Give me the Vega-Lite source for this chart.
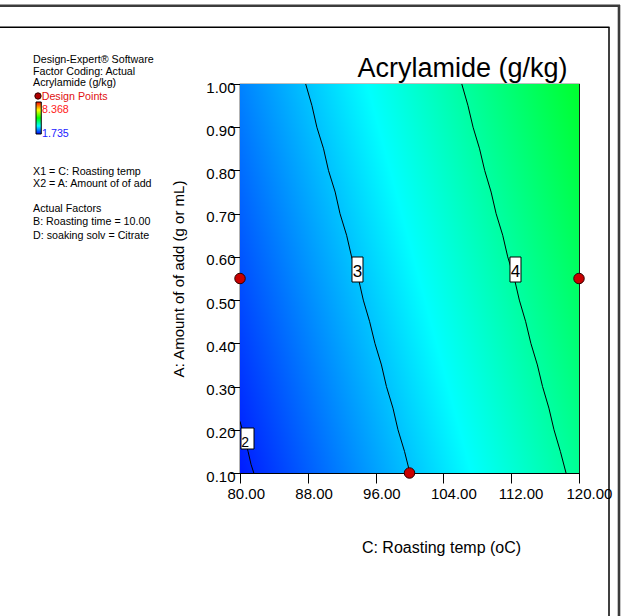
{
  "$schema": "https://vega.github.io/schema/vega-lite/v6.json",
  "width": 339,
  "height": 389,
  "autosize": "none",
  "padding": {"left": 240, "top": 84, "right": 42, "bottom": 143},
  "background": "white",
  "config": {
    "font": "Liberation Sans",
    "view": {"stroke": "black", "strokeWidth": 1.2},
    "axis": {"grid": false, "domainColor": "black", "tickColor": "black", "labelColor": "black", "titleColor": "black", "labelFont": "Liberation Sans", "titleFont": "Liberation Sans", "titleFontWeight": "normal"}
  },
  "layer": [
    {
      "data": {"values": [{"xlo": 80, "xhi": 120, "alo": 0.1, "ahi": 1.0}]},
      "mark": {"type": "rect", "fill": {"gradient": "linear", "x1": 0, "y1": 1, "x2": 1.1946, "y2": 0.6326, "stops": [{"offset": 0, "color": "#001bff"}, {"offset": 0.522, "color": "#00ffff"}, {"offset": 1, "color": "#00ff2e"}]}},
      "encoding": {
        "x": {"field": "xlo", "type": "quantitative", "scale": {"domain": [80, 120], "nice": false, "zero": false},
              "axis": {"title": "C: Roasting temp (oC)", "values": [80, 88, 96, 104, 112, 120], "format": ".2f", "labelFontSize": 15, "labelAlign": "left", "labelOffset": -13, "labelBaseline": "top", "labelPadding": 3, "tickSize": 10, "labelFlush": false, "labelOverlap": false, "titleFontSize": 16, "titleX": 201, "titleY": 79, "titleBaseline": "alphabetic", "titleAnchor": "middle"}},
        "x2": {"field": "xhi"},
        "y": {"field": "ahi", "type": "quantitative", "scale": {"domain": [0.1, 1.0], "nice": false, "zero": false},
              "axis": {"title": "A: Amount of  of add (g or mL)", "values": [0.1, 0.2, 0.3, 0.4, 0.5, 0.6, 0.7, 0.8, 0.9, 1.0], "format": ".2f", "labelFontSize": 15, "labelAlign": "right", "labelBaseline": "middle", "labelOffset": 3, "labelPadding": -5, "tickSize": 10, "labelFlush": false, "labelOverlap": false, "titleFontSize": 15, "titleAngle": -90, "titleX": -62, "titleY": 194.5, "titleBaseline": "middle", "titleAnchor": "middle"}},
        "y2": {"field": "alo"}
      }
    },
    {
      "data": {"values": [
        {"level": "2", "i": 0, "X": 80.0, "A": 0.2196},
        {"level": "2", "i": 1, "X": 80.27, "A": 0.2},
        {"level": "2", "i": 2, "X": 80.95, "A": 0.15},
        {"level": "2", "i": 3, "X": 81.3, "A": 0.12},
        {"level": "2", "i": 4, "X": 81.63, "A": 0.1},
        {"level": "3", "i": 0, "X": 87.75, "A": 1.0},
        {"level": "3", "i": 1, "X": 88.49, "A": 0.95},
        {"level": "3", "i": 2, "X": 89.07, "A": 0.9},
        {"level": "3", "i": 3, "X": 89.86, "A": 0.85},
        {"level": "3", "i": 4, "X": 90.44, "A": 0.8},
        {"level": "3", "i": 5, "X": 91.23, "A": 0.75},
        {"level": "3", "i": 6, "X": 91.8, "A": 0.7},
        {"level": "3", "i": 7, "X": 92.58, "A": 0.65},
        {"level": "3", "i": 8, "X": 93.17, "A": 0.6},
        {"level": "3", "i": 9, "X": 93.97, "A": 0.55},
        {"level": "3", "i": 10, "X": 94.55, "A": 0.5},
        {"level": "3", "i": 11, "X": 95.3, "A": 0.45},
        {"level": "3", "i": 12, "X": 95.92, "A": 0.4},
        {"level": "3", "i": 13, "X": 96.69, "A": 0.35},
        {"level": "3", "i": 14, "X": 97.28, "A": 0.3},
        {"level": "3", "i": 15, "X": 98.05, "A": 0.25},
        {"level": "3", "i": 16, "X": 98.64, "A": 0.2},
        {"level": "3", "i": 17, "X": 99.41, "A": 0.15},
        {"level": "3", "i": 18, "X": 100.05, "A": 0.1},
        {"level": "4", "i": 0, "X": 106.17, "A": 1.0},
        {"level": "4", "i": 1, "X": 106.9, "A": 0.95},
        {"level": "4", "i": 2, "X": 107.5, "A": 0.9},
        {"level": "4", "i": 3, "X": 108.27, "A": 0.85},
        {"level": "4", "i": 4, "X": 108.87, "A": 0.8},
        {"level": "4", "i": 5, "X": 109.63, "A": 0.75},
        {"level": "4", "i": 6, "X": 110.22, "A": 0.7},
        {"level": "4", "i": 7, "X": 111.0, "A": 0.65},
        {"level": "4", "i": 8, "X": 111.59, "A": 0.6},
        {"level": "4", "i": 9, "X": 112.37, "A": 0.55},
        {"level": "4", "i": 10, "X": 112.96, "A": 0.5},
        {"level": "4", "i": 11, "X": 113.71, "A": 0.45},
        {"level": "4", "i": 12, "X": 114.32, "A": 0.4},
        {"level": "4", "i": 13, "X": 115.09, "A": 0.35},
        {"level": "4", "i": 14, "X": 115.7, "A": 0.3},
        {"level": "4", "i": 15, "X": 116.45, "A": 0.25},
        {"level": "4", "i": 16, "X": 117.05, "A": 0.2},
        {"level": "4", "i": 17, "X": 117.8, "A": 0.15},
        {"level": "4", "i": 18, "X": 118.47, "A": 0.1}
      ]},
      "mark": {"type": "line", "color": "black", "strokeWidth": 1, "clip": true},
      "encoding": {
        "x": {"field": "X", "type": "quantitative", "scale": {"domain": [80, 120], "nice": false, "zero": false}},
        "y": {"field": "A", "type": "quantitative", "scale": {"domain": [0.1, 1.0], "nice": false, "zero": false}},
        "detail": {"field": "level"},
        "order": {"field": "i"}
      }
    },
    {
      "data": {"values": [{"level": "3", "X": 93.864, "A": 0.5708}, {"level": "4", "X": 112.507, "A": 0.5708}]},
      "mark": {"type": "point", "shape": "M-0.44,-1H0.44V1H-0.44Z", "size": 625, "filled": true, "fill": "white", "stroke": "black", "strokeWidth": 1, "opacity": 1},
      "encoding": {
        "x": {"field": "X", "type": "quantitative", "scale": {"domain": [80, 120], "nice": false, "zero": false}},
        "y": {"field": "A", "type": "quantitative", "scale": {"domain": [0.1, 1.0], "nice": false, "zero": false}}
      }
    },
    {
      "data": {"values": [{"level": "2", "X": 80.885, "A": 0.1798}]},
      "mark": {"type": "point", "shape": "M-0.62,-1H0.62V1H-0.62Z", "size": 441, "filled": true, "fill": "white", "stroke": "black", "strokeWidth": 1, "opacity": 1},
      "encoding": {
        "x": {"field": "X", "type": "quantitative", "scale": {"domain": [80, 120], "nice": false, "zero": false}},
        "y": {"field": "A", "type": "quantitative", "scale": {"domain": [0.1, 1.0], "nice": false, "zero": false}}
      }
    },
    {
      "data": {"values": [{"level": "3", "X": 93.864, "A": 0.5708}, {"level": "4", "X": 112.507, "A": 0.5708}]},
      "mark": {"type": "text", "fontSize": 17, "align": "center", "baseline": "middle", "dy": 2, "color": "black"},
      "encoding": {
        "x": {"field": "X", "type": "quantitative", "scale": {"domain": [80, 120], "nice": false, "zero": false}},
        "y": {"field": "A", "type": "quantitative", "scale": {"domain": [0.1, 1.0], "nice": false, "zero": false}},
        "text": {"field": "level"}
      }
    },
    {
      "data": {"values": [{"level": "2", "X": 80.6, "A": 0.1683}]},
      "mark": {"type": "text", "fontSize": 14, "align": "center", "baseline": "middle", "color": "black"},
      "encoding": {
        "x": {"field": "X", "type": "quantitative", "scale": {"domain": [80, 120], "nice": false, "zero": false}},
        "y": {"field": "A", "type": "quantitative", "scale": {"domain": [0.1, 1.0], "nice": false, "zero": false}},
        "text": {"field": "level"}
      }
    },
    {
      "data": {"values": [{"C": 80, "A": 0.55}, {"C": 120, "A": 0.55}, {"C": 100, "A": 0.1}]},
      "mark": {"type": "point", "shape": "circle", "filled": true, "size": 110, "fill": "#c80000", "stroke": "#300000", "strokeWidth": 1, "opacity": 1},
      "encoding": {
        "x": {"field": "C", "type": "quantitative", "scale": {"domain": [80, 120], "nice": false, "zero": false}},
        "y": {"field": "A", "type": "quantitative", "scale": {"domain": [0.1, 1.0], "nice": false, "zero": false}}
      }
    },
    {
      "data": {"values": [{}]},
      "mark": {"type": "text", "align": "center", "baseline": "alphabetic", "fontSize": 27, "color": "black"},
      "encoding": {
        "x": {"datum": 106.25, "type": "quantitative", "scale": {"domain": [80, 120], "nice": false, "zero": false}},
        "y": {"datum": 1.0162, "type": "quantitative", "scale": {"domain": [0.1, 1.0], "nice": false, "zero": false}},
        "text": {"value": "Acrylamide (g/kg)"}
      }
    },
    {
      "data": {"values": [{}]},
      "mark": {"type": "rule", "color": "#3c3c3c", "strokeWidth": 2.6},
      "encoding": {
        "x": {"datum": 51.681, "type": "quantitative", "scale": {"domain": [80, 120], "nice": false, "zero": false}},
        "x2": {"datum": 124.838},
        "y": {"datum": 1.18093, "type": "quantitative", "scale": {"domain": [0.1, 1.0], "nice": false, "zero": false}}
      }
    },
    {
      "data": {"values": [{}]},
      "mark": {"type": "rule", "color": "#3c3c3c", "strokeWidth": 2.6},
      "encoding": {
        "x": {"datum": 124.72, "type": "quantitative", "scale": {"domain": [80, 120], "nice": false, "zero": false}},
        "y": {"datum": 1.18278, "type": "quantitative", "scale": {"domain": [0.1, 1.0], "nice": false, "zero": false}},
        "y2": {"datum": -0.23084}
      }
    },
    {
      "data": {"values": [{}]},
      "mark": {"type": "rule", "color": "black", "strokeWidth": 1.5},
      "encoding": {
        "x": {"datum": 51.681, "type": "quantitative", "scale": {"domain": [80, 120], "nice": false, "zero": false}},
        "x2": {"datum": 123.6},
        "y": {"datum": 1.13118, "type": "quantitative", "scale": {"domain": [0.1, 1.0], "nice": false, "zero": false}}
      }
    },
    {
      "data": {"values": [{}]},
      "mark": {"type": "rule", "color": "black", "strokeWidth": 1.5},
      "encoding": {
        "x": {"datum": 123.54, "type": "quantitative", "scale": {"domain": [80, 120], "nice": false, "zero": false}},
        "y": {"datum": 1.1315, "type": "quantitative", "scale": {"domain": [0.1, 1.0], "nice": false, "zero": false}},
        "y2": {"datum": -0.23084}
      }
    },
    {
      "data": {"values": [{}]},
      "mark": {"type": "text", "align": "left", "baseline": "alphabetic", "fontSize": 10.7, "lineHeight": 11.6, "color": "black"},
      "encoding": {
        "x": {"datum": 55.575, "type": "quantitative", "scale": {"domain": [80, 120], "nice": false, "zero": false}},
        "y": {"datum": 1.04859, "type": "quantitative", "scale": {"domain": [0.1, 1.0], "nice": false, "zero": false}},
        "text": {"value": ["Design-Expert® Software", "Factor Coding: Actual", "Acrylamide (g/kg)"]}
      }
    },
    {
      "data": {"values": [{}]},
      "mark": {"type": "point", "shape": "circle", "filled": true, "size": 40, "fill": "#b00000", "stroke": "#300000", "strokeWidth": 1, "opacity": 1},
      "encoding": {
        "x": {"datum": 56.165, "type": "quantitative", "scale": {"domain": [80, 120], "nice": false, "zero": false}},
        "y": {"datum": 0.97224, "type": "quantitative", "scale": {"domain": [0.1, 1.0], "nice": false, "zero": false}}
      }
    },
    {
      "data": {"values": [{}]},
      "mark": {"type": "rect", "fill": {"gradient": "linear", "x1": 0, "y1": 0, "x2": 0, "y2": 1, "stops": [{"offset": 0, "color": "#ff0000"}, {"offset": 0.25, "color": "#ffff00"}, {"offset": 0.5, "color": "#00ff00"}, {"offset": 0.75, "color": "#00ffff"}, {"offset": 1, "color": "#0000ff"}]}, "stroke": "black", "strokeWidth": 1},
      "encoding": {
        "x": {"datum": 55.93, "type": "quantitative", "scale": {"domain": [80, 120], "nice": false, "zero": false}},
        "x2": {"datum": 56.55},
        "y": {"datum": 0.95835, "type": "quantitative", "scale": {"domain": [0.1, 1.0], "nice": false, "zero": false}},
        "y2": {"datum": 0.88432}
      }
    },
    {
      "data": {"values": [{}]},
      "mark": {"type": "text", "align": "left", "baseline": "alphabetic", "fontSize": 10.7, "color": "#e01010"},
      "encoding": {
        "x": {"datum": 56.602, "type": "quantitative", "scale": {"domain": [80, 120], "nice": false, "zero": false}},
        "y": {"datum": 0.96298, "type": "quantitative", "scale": {"domain": [0.1, 1.0], "nice": false, "zero": false}},
        "text": {"value": "Design Points"}
      }
    },
    {
      "data": {"values": [{}]},
      "mark": {"type": "text", "align": "left", "baseline": "alphabetic", "fontSize": 10.7, "color": "#ff2020"},
      "encoding": {
        "x": {"datum": 56.64, "type": "quantitative", "scale": {"domain": [80, 120], "nice": false, "zero": false}},
        "y": {"datum": 0.9336, "type": "quantitative", "scale": {"domain": [0.1, 1.0], "nice": false, "zero": false}},
        "text": {"value": "8.368"}
      }
    },
    {
      "data": {"values": [{}]},
      "mark": {"type": "text", "align": "left", "baseline": "alphabetic", "fontSize": 10.7, "color": "#2020ff"},
      "encoding": {
        "x": {"datum": 56.64, "type": "quantitative", "scale": {"domain": [80, 120], "nice": false, "zero": false}},
        "y": {"datum": 0.87807, "type": "quantitative", "scale": {"domain": [0.1, 1.0], "nice": false, "zero": false}},
        "text": {"value": "1.735"}
      }
    },
    {
      "data": {"values": [{}]},
      "mark": {"type": "text", "align": "left", "baseline": "alphabetic", "fontSize": 10.7, "lineHeight": 12.3, "color": "black"},
      "encoding": {
        "x": {"datum": 55.575, "type": "quantitative", "scale": {"domain": [80, 120], "nice": false, "zero": false}},
        "y": {"datum": 0.78946, "type": "quantitative", "scale": {"domain": [0.1, 1.0], "nice": false, "zero": false}},
        "text": {"value": ["X1 = C: Roasting temp", "X2 = A: Amount of  of add"]}
      }
    },
    {
      "data": {"values": [{}]},
      "mark": {"type": "text", "align": "left", "baseline": "alphabetic", "fontSize": 10.7, "lineHeight": 13.6, "color": "black"},
      "encoding": {
        "x": {"datum": 55.575, "type": "quantitative", "scale": {"domain": [80, 120], "nice": false, "zero": false}},
        "y": {"datum": 0.70455, "type": "quantitative", "scale": {"domain": [0.1, 1.0], "nice": false, "zero": false}},
        "text": {"value": ["Actual Factors", "B: Roasting time = 10.00", "D: soaking solv = Citrate"]}
      }
    }
  ]
}
